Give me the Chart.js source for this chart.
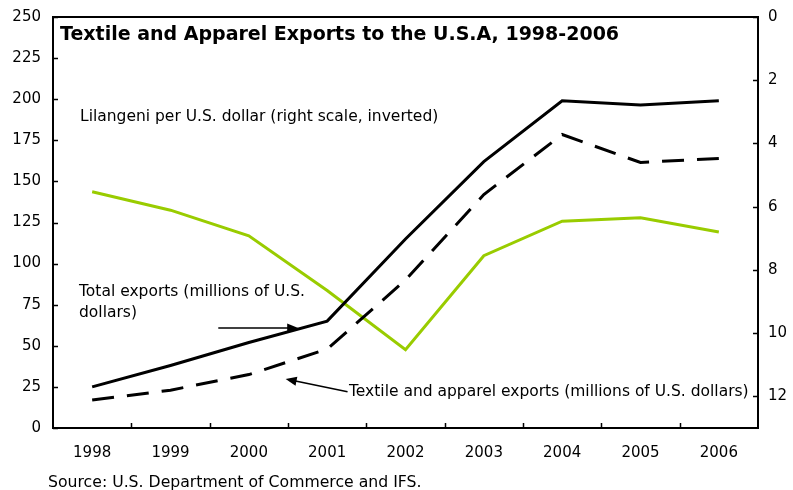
<!DOCTYPE html>
<html>
<head>
<meta charset="utf-8">
<script src="https://cdn.jsdelivr.net/npm/chart.js@4.4.0/dist/chart.umd.min.js"></script>
<style>
  html, body { margin: 0; padding: 0; background: #fff; }
  #wrap { width: 793px; height: 490px; }
</style>
</head>
<body>
<div id="wrap"><canvas id="exportsChart" width="793" height="490"></canvas></div>
<script>
// data
const years = ["1998", "1999", "2000", "2001", "2002", "2003", "2004", "2005", "2006"];
const totalExports = [25, 38, 52, 65, 115, 162, 199, 196.5, 199];
const textileExports = [17, 23, 32.5, 48, 90, 142, 178.5, 161.5, 164];
const lilangeniPerUsd = [5.53, 6.11, 6.92, 8.65, 10.52, 7.55, 6.46, 6.35, 6.8];
const leftTicks = [0, 25, 50, 75, 100, 125, 150, 175, 200, 225, 250];
const rightTicks = [0, 2, 4, 6, 8, 10, 12];

const FONT = "'DejaVu Sans', Verdana, sans-serif";

function arrow(ctx, x1, y1, x2, y2) {
    const ang = Math.atan2(y2 - y1, x2 - x1);
    const len = 11, half = 4.5;
    ctx.save();
    ctx.strokeStyle = "#000";
    ctx.fillStyle = "#000";
    ctx.lineWidth = 1.5;
    ctx.beginPath();
    ctx.moveTo(x1, y1);
    ctx.lineTo(x2 - Math.cos(ang) * len * 0.8, y2 - Math.sin(ang) * len * 0.8);
    ctx.stroke();
    ctx.beginPath();
    ctx.moveTo(x2, y2);
    ctx.lineTo(x2 - Math.cos(ang) * len - Math.sin(ang) * half, y2 - Math.sin(ang) * len + Math.cos(ang) * half);
    ctx.lineTo(x2 - Math.cos(ang) * len + Math.sin(ang) * half, y2 - Math.sin(ang) * len - Math.cos(ang) * half);
    ctx.closePath();
    ctx.fill();
    ctx.restore();
}

// frame, inward tick marks, title and notes
const decorations = {
    id: "decorations",
    afterDraw(chart) {
        const ctx = chart.ctx;
        const a = chart.chartArea;
        const xs = chart.scales.x, yl = chart.scales.y, yr = chart.scales.y1;
        ctx.save();
        ctx.strokeStyle = "#000";
        ctx.lineWidth = 2;
        ctx.strokeRect(a.left, a.top, a.right - a.left, a.bottom - a.top);

        ctx.lineWidth = 1.5;
        ctx.beginPath();
        leftTicks.forEach((v) => {
            const y = Math.round(yl.getPixelForValue(v)) + 0.5;
            ctx.moveTo(a.left, y);
            ctx.lineTo(a.left + 5, y);
        });
        rightTicks.forEach((v) => {
            const y = Math.round(yr.getPixelForValue(v)) + 0.5;
            ctx.moveTo(a.right - 5, y);
            ctx.lineTo(a.right, y);
        });
        for (let i = 1; i < years.length; i++) {
            const x = Math.round(xs.getPixelForValue(i - 0.5)) + 0.5;
            ctx.moveTo(x, a.bottom);
            ctx.lineTo(x, a.bottom - 5);
        }
        ctx.stroke();

        ctx.fillStyle = "#000";
        ctx.textBaseline = "middle";
        ctx.textAlign = "left";
        ctx.font = "bold 19px " + FONT;
        ctx.fillText("Textile and Apparel Exports to the U.S.A, 1998-2006", 60, 35);

        ctx.font = "15.5px " + FONT;
        ctx.fillText("Lilangeni per U.S. dollar (right scale, inverted)", 80, 117);
        ctx.fillText("Total exports (millions of U.S.", 79, 292);
        ctx.fillText("dollars)", 79, 313);
        ctx.fillText("Textile and apparel exports (millions of U.S. dollars)", 349, 392);
        ctx.font = "15.7px " + FONT;
        ctx.fillText("Source: U.S. Department of Commerce and IFS.", 48, 483);

        // arrows anchored to the scales
        arrow(ctx, xs.getPixelForValue(1.61), yl.getPixelForValue(60.8),
                   xs.getPixelForValue(2.63), yl.getPixelForValue(60.8));
        arrow(ctx, xs.getPixelForValue(3.26), yl.getPixelForValue(22),
                   xs.getPixelForValue(2.47), yl.getPixelForValue(29.8));
        ctx.restore();
    },
};

const ctx = document.getElementById("exportsChart").getContext("2d");
new Chart(ctx, {
    type: "line",
    data: {
        labels: years,
        datasets: [
            {
                label: "Total exports (millions of U.S. dollars)",
                data: totalExports,
                yAxisID: "y",
                borderColor: "#000",
                borderWidth: 3,
                pointRadius: 0,
                tension: 0,
            },
            {
                label: "Textile and apparel exports (millions of U.S. dollars)",
                data: textileExports,
                yAxisID: "y",
                borderColor: "#000",
                borderWidth: 3,
                borderDash: [22, 13],
                pointRadius: 0,
                tension: 0,
            },
            {
                label: "Lilangeni per U.S. dollar (right scale, inverted)",
                data: lilangeniPerUsd,
                yAxisID: "y1",
                borderColor: "#99cc00",
                borderWidth: 3,
                pointRadius: 0,
                tension: 0,
            },
        ],
    },
    options: {
        responsive: false,
        animation: false,
        devicePixelRatio: 1,
        layout: { padding: { top: 17, left: 0, right: 0, bottom: 0 } },
        plugins: {
            legend: { display: false },
            tooltip: { enabled: false },
            title: { display: false },
        },
        scales: {
            x: {
                offset: true,
                grid: { display: false },
                border: { display: false },
                ticks: { color: "#000", font: { family: FONT, size: 15 }, padding: 8, maxRotation: 0 },
                afterFit: (s) => { s.height = 62; s.paddingLeft = 0; s.paddingRight = 0; },
            },
            y: {
                position: "left",
                min: 0,
                max: 250,
                grid: { display: false },
                border: { display: false },
                afterBuildTicks: (s) => { s.ticks = leftTicks.map((v) => ({ value: v })); },
                ticks: { color: "#000", font: { family: FONT, size: 15 }, padding: 4 },
                afterFit: (s) => { s.width = 53; s.paddingTop = 0; s.paddingBottom = 0; },
            },
            y1: {
                position: "right",
                min: 0,
                max: 13,
                reverse: true,
                grid: { display: false },
                border: { display: false },
                afterBuildTicks: (s) => { s.ticks = rightTicks.map((v) => ({ value: v })); },
                ticks: { color: "#000", font: { family: FONT, size: 15 }, padding: 2 },
                afterFit: (s) => { s.width = 35; s.paddingTop = 0; s.paddingBottom = 0; },
            },
        },
    },
    plugins: [decorations],
});
</script>
</body>
</html>
